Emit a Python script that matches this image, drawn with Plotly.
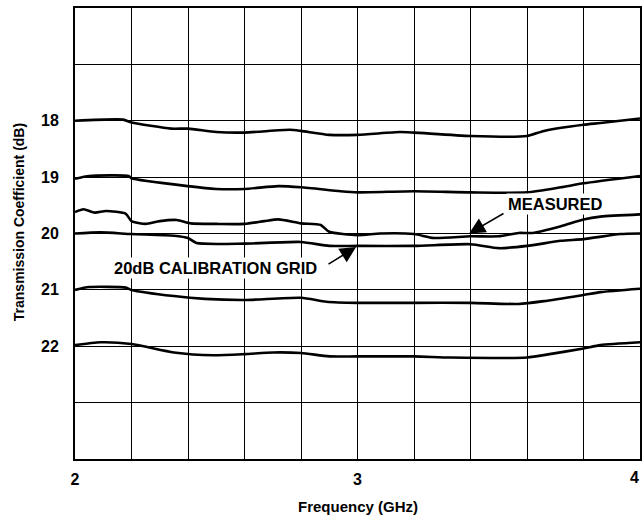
import plotly.graph_objects as go

# Frequency (GHz) sample points and traces (dB)
x_18 = [2.0, 2.17, 2.2, 2.34, 2.4, 2.5, 2.6, 2.76, 2.8, 2.9, 3.0, 3.15, 3.2, 3.4, 3.6, 3.66, 3.8, 3.86, 4.0]
y_18 = [18.0, 17.98, 18.03, 18.14, 18.14, 18.2, 18.21, 18.16, 18.18, 18.25, 18.25, 18.2, 18.21, 18.27, 18.27, 18.18, 18.07, 18.04, 17.96]

x_19 = [2.0, 2.05, 2.19, 2.2, 2.4, 2.5, 2.6, 2.72, 2.8, 2.94, 3.0, 3.2, 3.4, 3.6, 3.72, 3.8, 4.0]
y_19 = [19.03, 18.98, 18.98, 19.02, 19.16, 19.21, 19.21, 19.16, 19.18, 19.25, 19.27, 19.25, 19.27, 19.27, 19.18, 19.11, 18.98]

x_meas = [2.0, 2.03, 2.07, 2.11, 2.18, 2.2, 2.25, 2.3, 2.36, 2.41, 2.5, 2.6, 2.67, 2.72, 2.8, 2.87, 2.9, 3.0, 3.08, 3.2, 3.27, 3.4, 3.5, 3.57, 3.62, 3.72, 3.8, 3.86, 4.0]
y_meas = [19.62, 19.57, 19.63, 19.6, 19.65, 19.78, 19.83, 19.78, 19.76, 19.82, 19.83, 19.83, 19.78, 19.75, 19.82, 19.85, 19.97, 20.03, 20.0, 20.01, 20.08, 20.05, 20.05, 19.99, 19.99, 19.87, 19.75, 19.7, 19.66]

x_cal = [2.0, 2.09, 2.2, 2.35, 2.4, 2.43, 2.6, 2.8, 2.9, 3.0, 3.2, 3.4, 3.5, 3.6, 3.72, 3.8, 3.93, 4.0]
y_cal = [20.0, 19.98, 20.01, 20.04, 20.08, 20.17, 20.18, 20.15, 20.22, 20.22, 20.22, 20.19, 20.26, 20.22, 20.13, 20.1, 20.01, 20.0]

x_21 = [2.0, 2.05, 2.18, 2.2, 2.35, 2.46, 2.6, 2.8, 2.89, 3.0, 3.2, 3.4, 3.57, 3.66, 3.8, 3.86, 4.0]
y_21 = [21.0, 20.95, 20.96, 21.0, 21.11, 21.16, 21.18, 21.14, 21.21, 21.23, 21.23, 21.23, 21.25, 21.2, 21.09, 21.04, 20.98]

x_22 = [2.0, 2.09, 2.2, 2.35, 2.49, 2.6, 2.7, 2.8, 2.9, 3.0, 3.2, 3.33, 3.6, 3.68, 3.8, 3.86, 4.0]
y_22 = [21.98, 21.93, 21.96, 22.11, 22.16, 22.14, 22.11, 22.12, 22.18, 22.18, 22.18, 22.2, 22.2, 22.14, 22.04, 21.98, 21.93]

x_ticks = [2, 3, 4]
y_ticks = [18, 19, 20, 21, 22]

FONT = "Liberation Sans, Arial, sans-serif"

fig = go.Figure()
for xs, ys in [(x_18, y_18), (x_19, y_19), (x_meas, y_meas), (x_cal, y_cal), (x_21, y_21), (x_22, y_22)]:
    fig.add_trace(go.Scatter(x=xs, y=ys, mode="lines",
                             line=dict(color="black", width=2.6, shape="spline", smoothing=0.6),
                             showlegend=False, hoverinfo="skip"))

fig.update_layout(
    template="none",
    width=642, height=518,
    margin=dict(l=75, r=2, t=8, b=59),
    paper_bgcolor="white", plot_bgcolor="white",
    font=dict(family=FONT, size=13, color="black"),
    showlegend=False,
    xaxis=dict(range=[2, 4], tickvals=x_ticks[:-1], ticktext=["<b>%d</b>" % v for v in x_ticks[:-1]],
               showgrid=True, gridcolor="black", gridwidth=1.2,
               minor=dict(tick0=2, dtick=0.2, showgrid=True, gridcolor="black", gridwidth=1.2),
               zeroline=False, showline=True, linecolor="black", linewidth=2, mirror=True,
               ticks="", ticklen=0, automargin=False, ticklabelstandoff=5,
               tickfont=dict(family=FONT, size=16, color="black")),
    yaxis=dict(range=[24, 16], tickvals=y_ticks, ticktext=["<b>%d</b>" % v for v in y_ticks],
               showgrid=True, gridcolor="black", gridwidth=1.2,
               minor=dict(tick0=16, dtick=1, showgrid=True, gridcolor="black", gridwidth=1.2),
               zeroline=False, showline=True, linecolor="black", linewidth=2, mirror=True,
               ticks="", ticklen=0, automargin=False, ticklabelstandoff=11,
               tickfont=dict(family=FONT, size=16, color="black")),
)

# last x tick label, kept inside the page at the right edge
fig.add_annotation(x=x_ticks[-1], y=0, xref="x", yref="paper", xanchor="right", yanchor="top",
                   xshift=1, yshift=-8, text="<b>%d</b>" % x_ticks[-1], showarrow=False,
                   font=dict(family=FONT, size=16, color="black"))

# axis titles
fig.add_annotation(x=0.5, y=0, xref="paper", yref="paper", xanchor="center", yanchor="middle",
                   yshift=-47, text="<b>Frequency (GHz)</b>", showarrow=False,
                   font=dict(family=FONT, size=15, color="black"))
fig.add_annotation(x=0, y=0.525, xref="paper", yref="paper", xanchor="center", yanchor="middle",
                   xshift=-56, textangle=-90, text="<b>Transmission Coefficient (dB)</b>", showarrow=False,
                   font=dict(family=FONT, size=14, color="black"))

# labels
fig.add_annotation(x=3.70, y=19.48, xref="x", yref="y", text="<b>MEASURED</b>", showarrow=False,
                   font=dict(family=FONT, size=16.5, color="black"), bgcolor="white")
fig.add_annotation(x=2.499, y=20.61, xref="x", yref="y", text="<b>20dB CALIBRATION GRID</b>", showarrow=False,
                   font=dict(family=FONT, size=16.5, color="black"), bgcolor="white")
# arrows
fig.add_annotation(x=3.395, y=20.0, ax=3.522, ay=19.63, axref="x", ayref="y", xref="x", yref="y",
                   text="", showarrow=True, arrowhead=2, arrowsize=2.0, arrowwidth=1.6, arrowcolor="black")
fig.add_annotation(x=2.995, y=20.24, ax=2.892, ay=20.56, axref="x", ayref="y", xref="x", yref="y",
                   text="", showarrow=True, arrowhead=2, arrowsize=2.0, arrowwidth=1.6, arrowcolor="black")

fig.write_html("out.html", config={"displayModeBar": False},
               post_script="document.body.style.margin='0px';")
